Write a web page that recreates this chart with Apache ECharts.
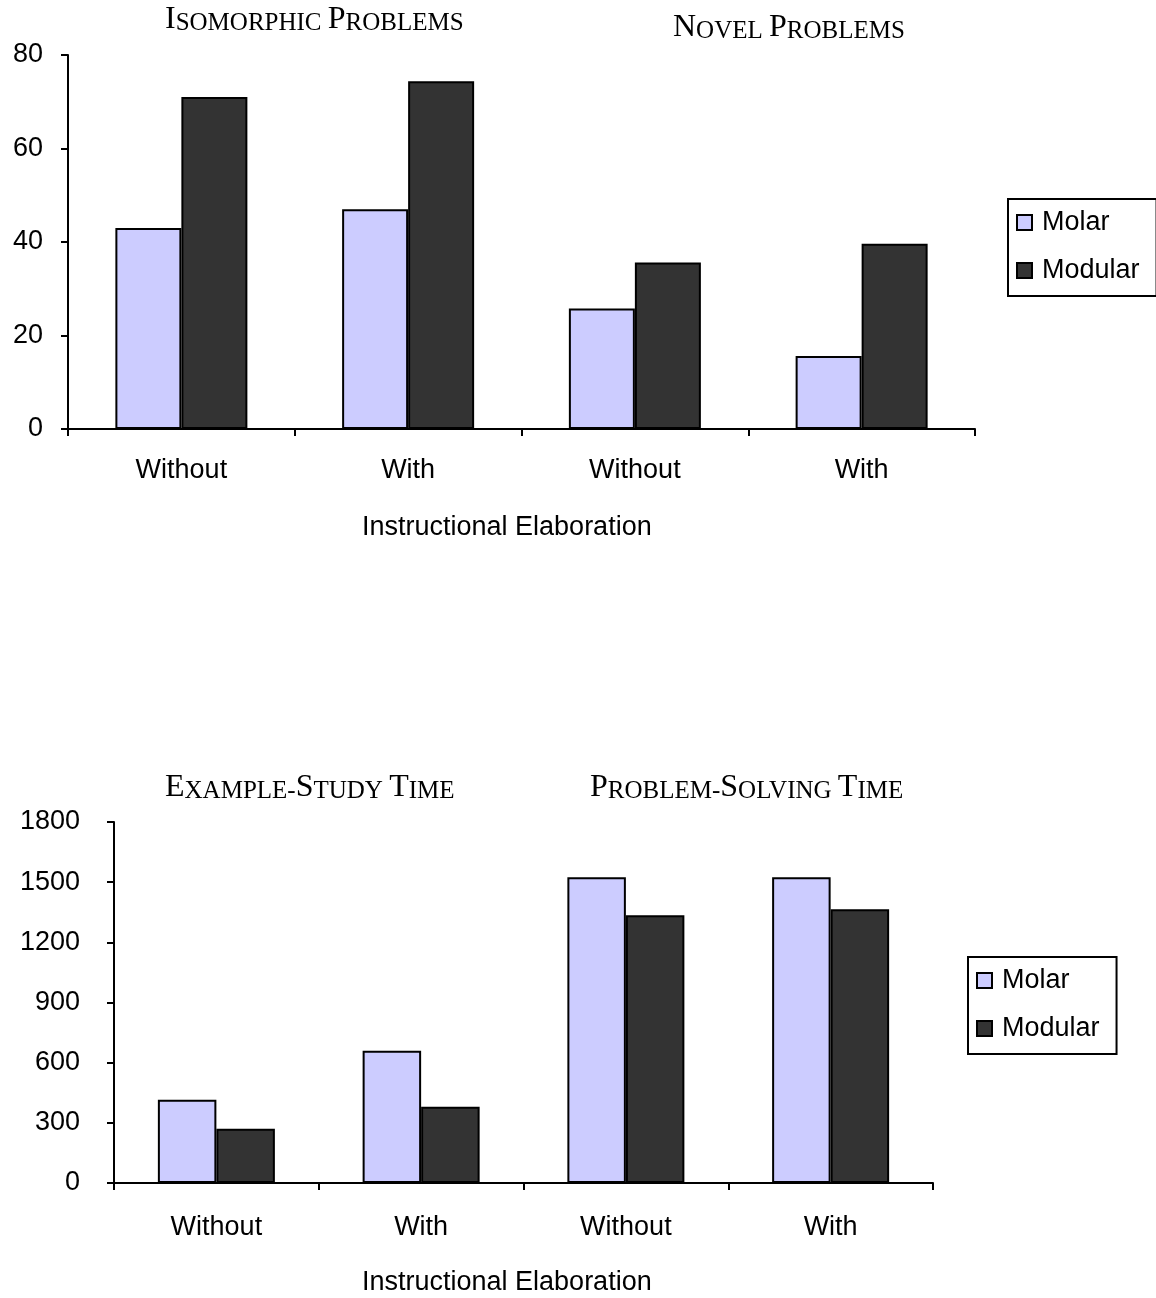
<!DOCTYPE html>
<html><head><meta charset="utf-8">
<script src="https://cdn.jsdelivr.net/npm/echarts@6/dist/echarts.min.js"></script>
<style>html,body{margin:0;padding:0;background:#fff}#c{width:1156px;height:1298px}</style>
</head><body><div id="c"></div>
<script>
const categories = ['Without', 'With', 'Without', 'With'];
const seriesNames = ['Molar', 'Modular'];
const accMolar = [43, 47, 25.8, 15.6];
const accModular = [71, 74.4, 35.6, 39.6];
const timeMolar = [415, 660, 1525, 1525];
const timeModular = [270, 380, 1335, 1365];
const accTicks = [0, 80, 20];
const timeTicks = [0, 1800, 300];
const xAxisTitle = 'Instructional Elaboration';
const panelTitles = ['Isomorphic Problems', 'Novel Problems', 'Example-Study Time', 'Problem-Solving Time'];

const SANS = '"Liberation Sans", Arial, sans-serif';
const SERIF = '"Liberation Serif", "Times New Roman", serif';
const colors = ['#CCCCFF', '#333333'];
const FS = 27;

function sc(text) {
  // small caps via rich text
  return text.split(' ').map(w => w.split('-').map(p => '{a|' + p[0].toUpperCase() + '}{b|' + p.slice(1).toUpperCase() + '}').join('{b|-}')).join('{b| }');
}
const rich = {
  a: {fontFamily: SERIF, fontSize: 32, fontWeight: 'normal', color: '#000', verticalAlign: 'bottom', lineHeight: 32},
  b: {fontFamily: SERIF, fontSize: 25, fontWeight: 'normal', color: '#000', verticalAlign: 'bottom', lineHeight: 30}
};
function titleAt(text, left, top) {
  return {text: sc(text), left: left, top: top, padding: 0,
    textStyle: {rich: rich, fontFamily: SERIF, fontWeight: 'normal'}};
}

const axisCommon = {
  axisLine: {show: true, lineStyle: {color: '#000', width: 2}},
  axisTick: {show: true, length: 7, lineStyle: {color: '#000', width: 2}},
  splitLine: {show: false}
};
function legendAt(left, top) {
  return {data: seriesNames, orient: 'vertical', left: left, top: top, padding: [10, 17, 12, 8], itemGap: 21,
    icon: 'rect', itemWidth: 15, itemHeight: 15, borderColor: '#000', borderWidth: 2, backgroundColor: '#fff',
    textStyle: {fontFamily: SANS, fontSize: FS, color: '#000', padding: [0, 0, 0, 5]}};
}

const chart = echarts.init(document.getElementById('c'), null, {renderer: 'canvas'});
chart.setOption({
  animation: false,
  backgroundColor: '#fff',
  title: [
    titleAt(panelTitles[0], 165, 4),
    titleAt(panelTitles[1], 673, 12),
    titleAt(panelTitles[2], 165, 772),
    titleAt(panelTitles[3], 590, 772)
  ],
  legend: [legendAt(1008, 199), legendAt(968, 957)],
  grid: [
    {left: 68, right: 181, top: 55, height: 374},
    {left: 114, right: 223, top: 822, height: 361}
  ],
  xAxis: [
    Object.assign({type: 'category', gridIndex: 0, data: categories,
      axisLabel: {fontFamily: SANS, fontSize: FS, color: '#000', margin: 28}}, axisCommon),
    Object.assign({type: 'category', gridIndex: 1, data: categories,
      axisLabel: {fontFamily: SANS, fontSize: FS, color: '#000', margin: 31}}, axisCommon)
  ],
  yAxis: [
    Object.assign({type: 'value', gridIndex: 0, min: accTicks[0], max: accTicks[1], interval: accTicks[2],
      axisLabel: {fontFamily: SANS, fontSize: FS, color: '#000', margin: 25, padding: [4, 0, 0, 0], formatter: v => String(v)}}, axisCommon),
    Object.assign({type: 'value', gridIndex: 1, min: timeTicks[0], max: timeTicks[1], interval: timeTicks[2],
      axisLabel: {fontFamily: SANS, fontSize: FS, color: '#000', margin: 34, padding: [4, 0, 0, 0], formatter: v => String(v)}}, axisCommon)
  ],
  graphic: [
    {type: 'text', left: 362, top: 514, style: {text: xAxisTitle, font: FS + 'px ' + SANS, fill: '#000'}},
    {type: 'text', left: 362, top: 1269, style: {text: xAxisTitle, font: FS + 'px ' + SANS, fill: '#000'}}
  ],
  series: [
    {name: 'Molar', type: 'bar', xAxisIndex: 0, yAxisIndex: 0, data: accMolar, barWidth: 66, barGap: '0%',
     itemStyle: {color: colors[0], borderColor: '#000', borderWidth: 2}},
    {name: 'Modular', type: 'bar', xAxisIndex: 0, yAxisIndex: 0, data: accModular, barWidth: 66, barGap: '0%',
     itemStyle: {color: colors[1], borderColor: '#000', borderWidth: 2}},
    {name: 'Molar', type: 'bar', xAxisIndex: 1, yAxisIndex: 1, data: timeMolar, barWidth: 58.5, barGap: '0%',
     itemStyle: {color: colors[0], borderColor: '#000', borderWidth: 2}},
    {name: 'Modular', type: 'bar', xAxisIndex: 1, yAxisIndex: 1, data: timeModular, barWidth: 58.5, barGap: '0%',
     itemStyle: {color: colors[1], borderColor: '#000', borderWidth: 2}}
  ]
});
</script>
</body></html>
